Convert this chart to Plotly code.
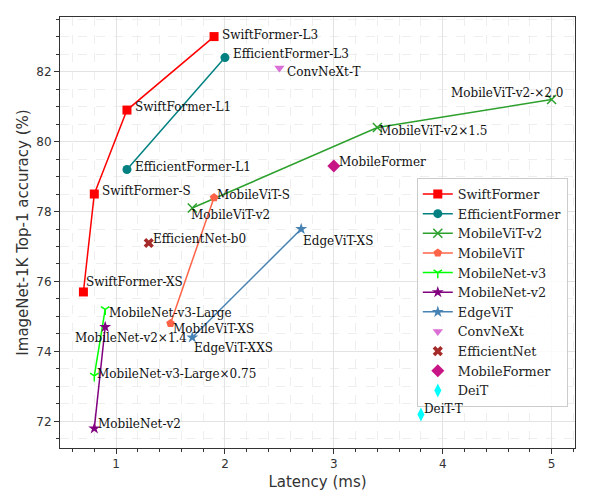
import plotly.graph_objects as go

# ---- data ----
swift_lat = [0.7, 0.8, 1.1, 1.9]
swift_acc = [75.7, 78.5, 80.9, 83.0]
swift_lbl = ["SwiftFormer-XS", "SwiftFormer-S", "SwiftFormer-L1", "SwiftFormer-L3"]

eff_lat = [1.1, 2.0]
eff_acc = [79.2, 82.4]
eff_lbl = ["EfficientFormer-L1", "EfficientFormer-L3"]

mvit2_lat = [1.7, 3.4, 5.0]
mvit2_acc = [78.1, 80.4, 81.2]
mvit2_lbl = ["MobileViT-v2", "MobileViT-v2×1.5", "MobileViT-v2-×2.0"]

mvit_lat = [1.5, 1.9]
mvit_acc = [74.8, 78.4]
mvit_lbl = ["MobileViT-XS", "MobileViT-S"]

mnv3_lat = [0.8, 0.9]
mnv3_acc = [73.3, 75.2]
mnv3_lbl = ["MobileNet-v3-Large×0.75", "MobileNet-v3-Large"]

mnv2_lat = [0.8, 0.9]
mnv2_acc = [71.8, 74.7]
mnv2_lbl = ["MobileNet-v2", "MobileNet-v2×1.4"]

edge_lat = [1.7, 2.7]
edge_acc = [74.4, 77.5]
edge_lbl = ["EdgeViT-XXS", "EdgeViT-XS"]

convnext_lat = [2.5]
convnext_acc = [82.1]
convnext_lbl = ["ConvNeXt-T"]

effnet_lat = [1.3]
effnet_acc = [77.1]
effnet_lbl = ["EfficientNet-b0"]

mformer_lat = [3.0]
mformer_acc = [79.3]
mformer_lbl = ["MobileFormer"]

deit_lat = [3.8]
deit_acc = [72.2]
deit_lbl = ["DeiT-T"]

# ---- styles ----
series = [
    ("SwiftFormer", swift_lat, swift_acc, swift_lbl, "#ff0000", "square", 9, "lines+markers",
     [(1, 10), (6, 3), (6, 3), (6, 2)]),
    ("EfficientFormer", eff_lat, eff_acc, eff_lbl, "#008080", "circle", 9, "lines+markers",
     [(6, 3), (6, 4)]),
    ("MobileViT-v2", mvit2_lat, mvit2_acc, mvit2_lbl, "#2ca02c", "x-thin-open", 9, "lines+markers",
     [(-3, -7), (0, -3), (None, 7)]),
    ("MobileViT", mvit_lat, mvit_acc, mvit_lbl, "#ff6347", "pentagon", 9, "lines+markers",
     [(0, -6), (1, 3)]),
    ("MobileNet-v3", mnv3_lat, mnv3_acc, mnv3_lbl, "#00ff00", "y-down-open", 7, "lines+markers",
     [(1, 2), (2, -4)]),
    ("MobileNet-v2", mnv2_lat, mnv2_acc, mnv2_lbl, "#800080", "star", 9, "lines+markers",
     [(2, 4), (-32, -11)]),
    ("EdgeViT", edge_lat, edge_acc, edge_lbl, "#4682b4", "star", 9, "lines+markers",
     [(0, -11), (0, -12)]),
    ("ConvNeXt", convnext_lat, convnext_acc, convnext_lbl, "#da70d6", "triangle-down", 9, "markers",
     [(6, -4)]),
    ("EfficientNet", effnet_lat, effnet_acc, effnet_lbl, "#a52a2a", "x", 9, "markers",
     [(2, 4)]),
    ("MobileFormer", mformer_lat, mformer_acc, mformer_lbl, "#c71585", "diamond", 10, "markers",
     [(3, 4)]),
    ("DeiT", deit_lat, deit_acc, deit_lbl, "cyan", "diamond-tall", 10, "markers",
     [(1, 5)]),
]

fig = go.Figure()
annotations = []
ann_font = dict(family="DejaVu Serif", size=12, color="#111")
for name, xs, ys, lbls, color, sym, size, mode, offs in series:
    open_sym = sym.endswith("open")
    fig.add_trace(go.Scatter(
        x=xs, y=ys, mode=mode, name=name,
        line=dict(color=color, width=1.5),
        marker=dict(symbol=sym, size=size, color=color,
                    line=dict(color=color, width=1.5 if open_sym else 0)),
        hoverinfo="skip",
    ))
    for xv, yv, t, (dx, dy) in zip(xs, ys, lbls, offs):
        if dx is None:
            annotations.append(dict(x=xv, y=yv, text=t, showarrow=False,
                                    xanchor="right", yanchor="middle",
                                    xshift=13, yshift=dy, font=ann_font))
        else:
            annotations.append(dict(x=xv, y=yv, text=t, showarrow=False,
                                    xanchor="left", yanchor="middle",
                                    xshift=dx, yshift=dy, font=ann_font))

axis_common = dict(
    showline=True, mirror=True, linecolor="#333", linewidth=1,
    ticks="outside", ticklen=5, tickcolor="#333", tickwidth=1,
    showgrid=True, gridcolor="#e3e3e3", gridwidth=1,
    zeroline=False,
    tickfont=dict(family="DejaVu Sans", size=12, color="#333"),
    title_font=dict(family="DejaVu Sans", size=15, color="#333"),
)

fig.update_layout(
    width=603, height=502,
    margin=dict(l=60, r=28, t=17, b=54),
    paper_bgcolor="white", plot_bgcolor="white",
    annotations=annotations,
    showlegend=True,
    legend=dict(
        x=0.986, y=0.626, xanchor="right", yanchor="top",
        bgcolor="rgba(255,255,255,0.85)", bordercolor="#cccccc", borderwidth=1,
        font=dict(family="DejaVu Serif", size=12.8, color="#222"),
        itemwidth=30, tracegroupgap=0,
    ),
    xaxis=dict(
        range=[0.485, 5.215], dtick=1, tick0=0,
        title=dict(text="Latency (ms)", standoff=6),
        minor=dict(dtick=0.2, tick0=0, ticks="outside", ticklen=3, tickcolor="#333",
                   showgrid=True, gridcolor="#eeeeee", griddash="dash"),
        **axis_common,
    ),
    yaxis=dict(
        range=[71.24, 83.56], dtick=2, tick0=0,
        title=dict(text="ImageNet-1K Top-1 accuracy (%)", standoff=4),
        minor=dict(dtick=0.5, tick0=0, ticks="outside", ticklen=3, tickcolor="#333",
                   showgrid=True, gridcolor="#eeeeee", griddash="dash"),
        **axis_common,
    ),
)

fig.write_html("out.html")
